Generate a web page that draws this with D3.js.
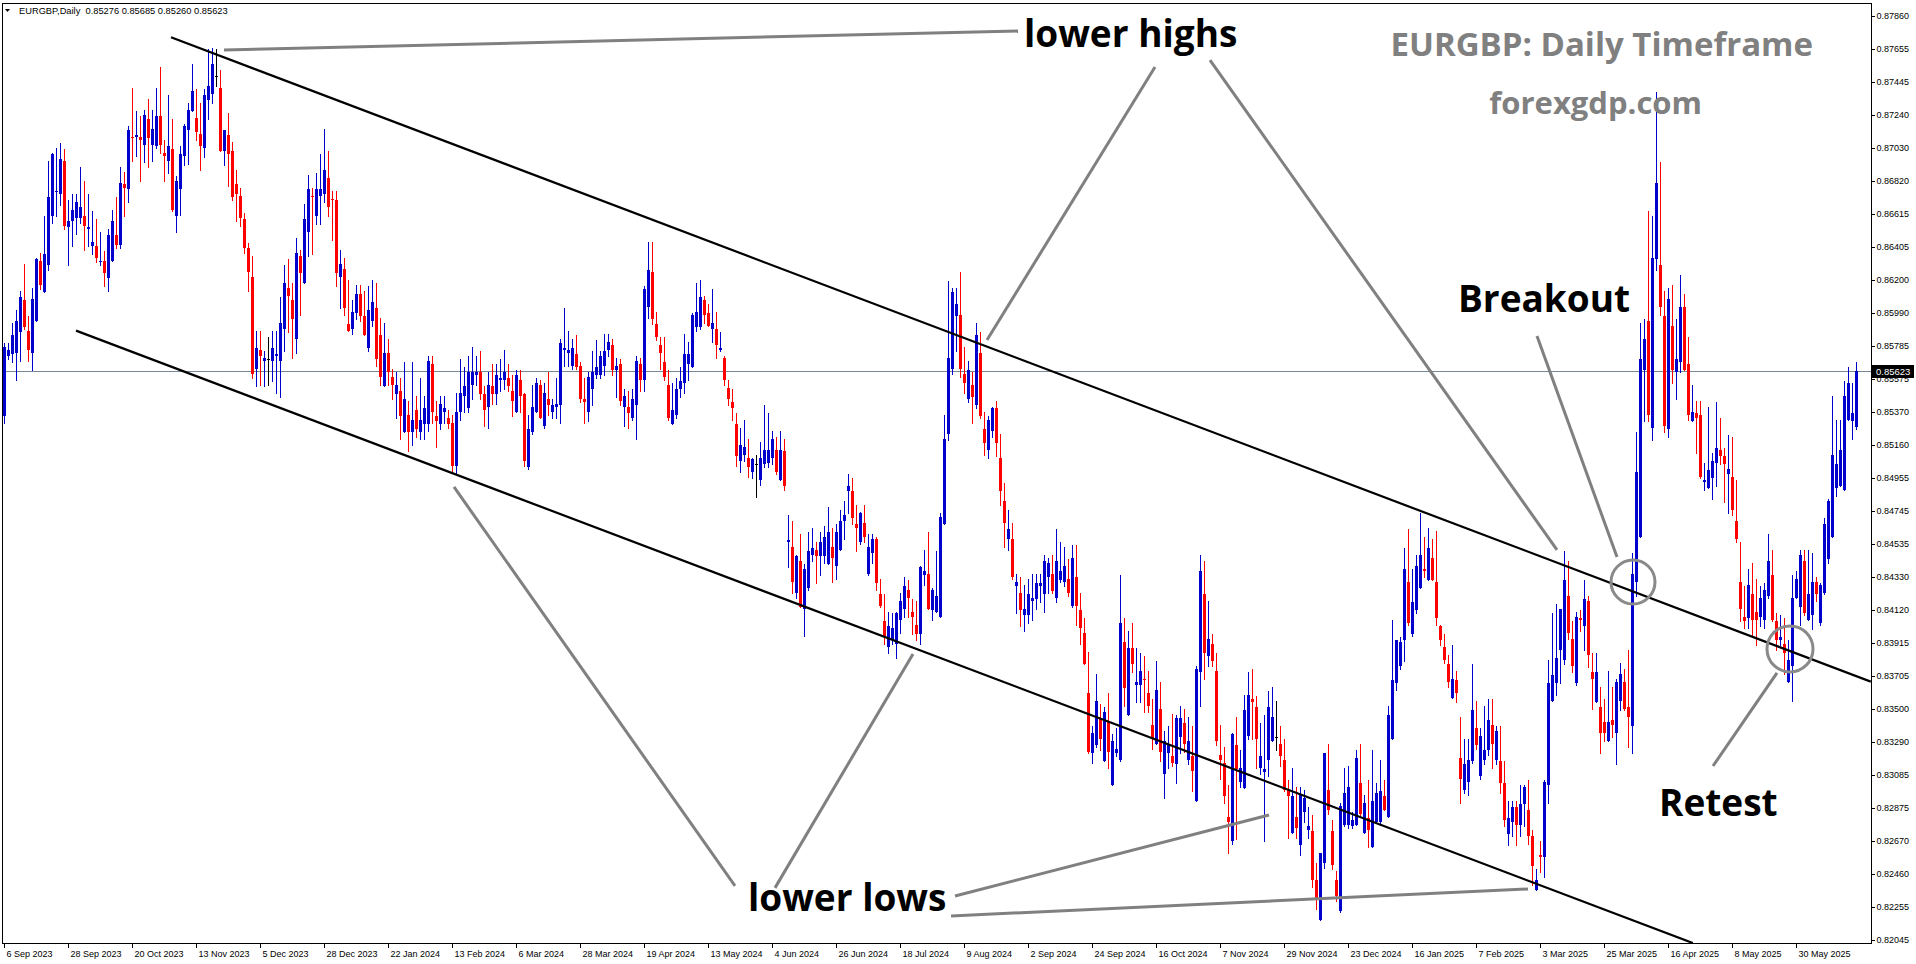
<!DOCTYPE html>
<html><head><meta charset="utf-8">
<script src="https://cdn.jsdelivr.net/npm/d3@7"></script>
<style>
html,body{margin:0;padding:0;background:#fff;}
svg{display:block;}
.ax text{font-family:"Liberation Sans",Arial,sans-serif;font-size:9px;fill:#000;}
.ax path,.ax line{stroke:#000;shape-rendering:crispEdges;}
</style></head><body>
<svg id="c" width="1916" height="964"></svg>
<script>
// ---------- DATA (EURGBP Daily) ----------
const opens=[0.8534,0.8572,0.8573,0.8574,0.8587,0.8607,0.8588,0.8574,0.8594,0.8632,0.8612,0.8629,0.8660,0.8675,0.8674,0.8695,0.8653,0.8657,0.8659,0.8659,0.8660,0.8652,0.8641,0.8641,0.8631,0.8632,0.8621,0.8632,0.8648,0.8642,0.8680,0.8677,0.8710,0.8710,0.8710,0.8705,0.8721,0.8705,0.8704,0.8723,0.8700,0.8695,0.8702,0.8660,0.8677,0.8698,0.8714,0.8726,0.8722,0.8712,0.8703,0.8733,0.8737,0.8748,0.8741,0.8701,0.8711,0.8701,0.8680,0.8673,0.8658,0.8640,0.8622,0.8564,0.8576,0.8569,0.8570,0.8569,0.8572,0.8569,0.8589,0.8615,0.8607,0.8583,0.8635,0.8618,0.8650,0.8673,0.8660,0.8673,0.8674,0.8684,0.8671,0.8670,0.8622,0.8627,0.8592,0.8589,0.8599,0.8611,0.8597,0.8577,0.8594,0.8602,0.8585,0.8553,0.8574,0.8559,0.8548,0.8550,0.8524,0.8535,0.8524,0.8538,0.8524,0.8529,0.8529,0.8567,0.8534,0.8529,0.8537,0.8533,0.8530,0.8503,0.8537,0.8547,0.8539,0.8554,0.8560,0.8562,0.8548,0.8540,0.8553,0.8548,0.8557,0.8557,0.8558,0.8550,0.8537,0.8557,0.8548,0.8502,0.8524,0.8537,0.8554,0.8528,0.8545,0.8537,0.8540,0.8541,0.8576,0.8574,0.8566,0.8573,0.8566,0.8545,0.8537,0.8551,0.8560,0.8560,0.8566,0.8576,0.8579,0.8563,0.8567,0.8540,0.8540,0.8533,0.8541,0.8567,0.8557,0.8603,0.8625,0.8592,0.8579,0.8568,0.8554,0.8529,0.8535,0.8551,0.8555,0.8567,0.8565,0.8590,0.8590,0.8607,0.8599,0.8589,0.8589,0.8576,0.8571,0.8552,0.8543,0.8529,0.8506,0.8510,0.8508,0.8499,0.8504,0.8494,0.8504,0.8505,0.8508,0.8513,0.8494,0.8512,0.8455,0.8452,0.8423,0.8443,0.8413,0.8426,0.8447,0.8450,0.8446,0.8446,0.8441,0.8452,0.8440,0.8450,0.8468,0.8487,0.8487,0.8466,0.8455,0.8467,0.8435,0.8448,0.8457,0.8422,0.8405,0.8389,0.8393,0.8391,0.8406,0.8413,0.8425,0.8411,0.8403,0.8397,0.8434,0.8435,0.8412,0.8411,0.8408,0.8466,0.8523,0.8564,0.8597,0.8598,0.8561,0.8545,0.8554,0.8541,0.8574,0.8526,0.8513,0.8525,0.8539,0.8508,0.8481,0.8457,0.8457,0.8427,0.8423,0.8409,0.8409,0.8418,0.8419,0.8427,0.8422,0.8433,0.8435,0.8420,0.8431,0.8430,0.8432,0.8415,0.8433,0.8412,0.8398,0.8360,0.8322,0.8327,0.8344,0.8317,0.8342,0.8302,0.8322,0.8318,0.8392,0.8346,0.8388,0.8365,0.8365,0.8369,0.8360,0.8340,0.8328,0.8350,0.8309,0.8322,0.8320,0.8315,0.8332,0.8341,0.8318,0.8320,0.8292,0.8373,0.8422,0.8383,0.8391,0.8374,0.8321,0.8316,0.8282,0.8267,0.8327,0.8304,0.8300,0.8333,0.8356,0.8351,0.8313,0.8310,0.8318,0.8330,0.8332,0.8328,0.8318,0.8299,0.8272,0.8282,0.8264,0.8285,0.8274,0.8273,0.8242,0.8217,0.8253,0.8299,0.8273,0.8242,0.8223,0.8277,0.8277,0.8276,0.8277,0.8303,0.8272,0.8281,0.8263,0.8279,0.8279,0.8295,0.8282,0.8331,0.8366,0.8377,0.8393,0.8430,0.8397,0.8412,0.8426,0.8438,0.8431,0.8445,0.8430,0.8402,0.8389,0.8378,0.8357,0.8368,0.8319,0.8299,0.8304,0.8317,0.8338,0.8308,0.8318,0.8324,0.8340,0.8318,0.8317,0.8303,0.8271,0.8279,0.8288,0.8277,0.8290,0.8286,0.8270,0.8236,0.8258,0.8257,0.8302,0.8355,0.8366,0.8387,0.8381,0.8421,0.8394,0.8366,0.8407,0.8402,0.8418,0.8373,0.8354,0.8351,0.8342,0.8330,0.8343,0.8335,0.8355,0.8367,0.8351,0.8339,0.8430,0.8458,0.8563,0.8594,0.8527,0.8633,0.8629,0.8597,0.8526,0.8591,0.8562,0.8568,0.8603,0.8567,0.8531,0.8536,0.8535,0.8493,0.8489,0.8495,0.8505,0.8513,0.8509,0.8498,0.8496,0.8468,0.8430,0.8408,0.8407,0.8422,0.8411,0.8408,0.8406,0.8421,0.8434,0.8405,0.8393,0.8391,0.8367,0.8377,0.8420,0.8414,0.8443,0.8406,0.8409,0.8430,0.8404,0.8423,0.8444,0.8458,0.8489,0.8490,0.8488,0.8532,0.8531,0.85276];
const highs=[0.8580,0.8580,0.8593,0.8601,0.8613,0.8630,0.8597,0.8615,0.8634,0.8637,0.8660,0.8695,0.8700,0.8703,0.8706,0.8702,0.8670,0.8674,0.8674,0.8691,0.8682,0.8674,0.8663,0.8658,0.8650,0.8638,0.8652,0.8664,0.8672,0.8691,0.8688,0.8717,0.8741,0.8726,0.8723,0.8727,0.8734,0.8727,0.8741,0.8754,0.8708,0.8736,0.8721,0.8685,0.8704,0.8718,0.8731,0.8756,0.8740,0.8731,0.8740,0.8765,0.8766,0.8765,0.8752,0.8714,0.8725,0.8707,0.8689,0.8678,0.8662,0.8643,0.8635,0.8588,0.8588,0.8575,0.8584,0.8588,0.8588,0.8609,0.8629,0.8633,0.8618,0.8646,0.8639,0.8668,0.8686,0.8678,0.8687,0.8699,0.8715,0.8701,0.8676,0.8676,0.8639,0.8634,0.8620,0.8607,0.8617,0.8617,0.8613,0.8616,0.8620,0.8618,0.8596,0.8593,0.8583,0.8564,0.8562,0.8558,0.8568,0.8544,0.8568,0.8547,0.8558,0.8547,0.8572,0.8572,0.8544,0.8547,0.8547,0.8538,0.8535,0.8549,0.8570,0.8565,0.8572,0.8578,0.8572,0.8575,0.8553,0.8562,0.8567,0.8567,0.8570,0.8576,0.8567,0.8560,0.8563,0.8563,0.8549,0.8535,0.8554,0.8558,0.8557,0.8555,0.8562,0.8545,0.8558,0.8583,0.8602,0.8588,0.8583,0.8585,0.8568,0.8558,0.8562,0.8575,0.8582,0.8575,0.8586,0.8586,0.8583,0.8571,0.8570,0.8551,0.8550,0.8551,0.8572,0.8571,0.8616,0.8644,0.8644,0.8600,0.8584,0.8584,0.8563,0.8555,0.8558,0.8565,0.8586,0.8581,0.8599,0.8618,0.8620,0.8610,0.8605,0.8614,0.8600,0.8587,0.8572,0.8557,0.8551,0.8536,0.8527,0.8532,0.8520,0.8508,0.8510,0.8518,0.8541,0.8536,0.8525,0.8521,0.8525,0.8520,0.8472,0.8468,0.8447,0.8460,0.8441,0.8461,0.8464,0.8455,0.8461,0.8465,0.8477,0.8464,0.8466,0.8475,0.8481,0.8498,0.8495,0.8478,0.8474,0.8478,0.8460,0.8460,0.8458,0.8432,0.8422,0.8411,0.8410,0.8411,0.8423,0.8433,0.8431,0.8419,0.8418,0.8440,0.8450,0.8461,0.8426,0.8449,0.8473,0.8535,0.8619,0.8615,0.8615,0.8625,0.8578,0.8569,0.8562,0.8593,0.8587,0.8537,0.8534,0.8540,0.8544,0.8523,0.8492,0.8475,0.8467,0.8435,0.8433,0.8428,0.8432,0.8435,0.8435,0.8435,0.8447,0.8445,0.8447,0.8463,0.8455,0.8452,0.8444,0.8453,0.8453,0.8423,0.8407,0.8386,0.8339,0.8372,0.8353,0.8351,0.8360,0.8334,0.8338,0.8434,0.8407,0.8399,0.8404,0.8388,0.8385,0.8383,0.8374,0.8356,0.8380,0.8367,0.8336,0.8339,0.8347,0.8346,0.8352,0.8350,0.8345,0.8339,0.8377,0.8447,0.8443,0.8418,0.8397,0.8385,0.8340,0.8326,0.8302,0.8335,0.8345,0.8324,0.8359,0.8373,0.8375,0.8358,0.8341,0.8346,0.8361,0.8364,0.8355,0.8339,0.8331,0.8305,0.8313,0.8301,0.8301,0.8299,0.8288,0.8283,0.8253,0.8259,0.8322,0.8328,0.8280,0.8248,0.8291,0.8313,0.8314,0.8285,0.8324,0.8328,0.8296,0.8305,0.8324,0.8303,0.8318,0.8305,0.8352,0.8406,0.8393,0.8395,0.8451,0.8463,0.8438,0.8447,0.8473,0.8458,0.8464,0.8457,0.8462,0.8403,0.8397,0.8384,0.8390,0.8374,0.8345,0.8331,0.8331,0.8378,0.8355,0.8338,0.8352,0.8356,0.8356,0.8339,0.8339,0.8317,0.8292,0.8292,0.8292,0.8302,0.8302,0.8305,0.8274,0.8249,0.8267,0.8305,0.8381,0.8410,0.8416,0.8413,0.8449,0.8443,0.8405,0.8411,0.8412,0.8431,0.8421,0.8385,0.8385,0.8364,0.8356,0.8374,0.8364,0.8369,0.8379,0.8375,0.8387,0.8448,0.8524,0.8593,0.8595,0.8663,0.8660,0.8738,0.8694,0.8613,0.8615,0.8617,0.8595,0.8623,0.8611,0.8584,0.8554,0.8544,0.8544,0.8505,0.8540,0.8511,0.8543,0.8533,0.8514,0.8522,0.8521,0.8494,0.8455,0.8427,0.8438,0.8442,0.8432,0.8427,0.8429,0.8460,0.8450,0.8410,0.8409,0.8407,0.8393,0.8434,0.8437,0.8450,0.8450,0.8450,0.8448,0.8433,0.8429,0.8470,0.8482,0.8547,0.8532,0.8532,0.8556,0.8565,0.8555,0.85685];
const lows=[0.8530,0.8570,0.8568,0.8557,0.8569,0.8589,0.8569,0.8563,0.8594,0.8614,0.8612,0.8626,0.8656,0.8660,0.8667,0.8652,0.8629,0.8641,0.8649,0.8656,0.8639,0.8641,0.8636,0.8631,0.8629,0.8616,0.8613,0.8632,0.8640,0.8640,0.8660,0.8669,0.8695,0.8698,0.8682,0.8694,0.8691,0.8695,0.8703,0.8700,0.8682,0.8687,0.8663,0.8650,0.8661,0.8692,0.8693,0.8726,0.8708,0.8689,0.8697,0.8721,0.8731,0.8742,0.8701,0.8692,0.8679,0.8670,0.8657,0.8654,0.8637,0.8613,0.8558,0.8553,0.8554,0.8553,0.8554,0.8556,0.8549,0.8546,0.8575,0.8587,0.8571,0.8574,0.8598,0.8618,0.8635,0.8636,0.8655,0.8655,0.8669,0.8660,0.8645,0.8616,0.8602,0.8598,0.8588,0.8586,0.8595,0.8594,0.8585,0.8575,0.8591,0.8566,0.8554,0.8553,0.8554,0.8545,0.8533,0.8520,0.8524,0.8512,0.8516,0.8521,0.8520,0.8520,0.8525,0.8530,0.8515,0.8526,0.8530,0.8527,0.8499,0.8498,0.8532,0.8537,0.8537,0.8545,0.8554,0.8545,0.8528,0.8527,0.8542,0.8542,0.8550,0.8551,0.8550,0.8534,0.8537,0.8537,0.8503,0.8501,0.8523,0.8537,0.8533,0.8527,0.8535,0.8533,0.8533,0.8530,0.8566,0.8566,0.8564,0.8564,0.8543,0.8530,0.8531,0.8541,0.8558,0.8558,0.8560,0.8572,0.8560,0.8546,0.8541,0.8528,0.8527,0.8532,0.8520,0.8550,0.8550,0.8596,0.8592,0.8582,0.8564,0.8557,0.8532,0.8529,0.8533,0.8546,0.8549,0.8557,0.8565,0.8588,0.8589,0.8593,0.8591,0.8581,0.8571,0.8575,0.8554,0.8541,0.8532,0.8503,0.8499,0.8506,0.8496,0.8495,0.8483,0.8491,0.8502,0.8502,0.8504,0.8498,0.8494,0.8488,0.8439,0.8423,0.8420,0.8414,0.8396,0.8425,0.8443,0.8429,0.8434,0.8442,0.8441,0.8430,0.8432,0.8450,0.8457,0.8473,0.8466,0.8449,0.8454,0.8455,0.8434,0.8442,0.8425,0.8414,0.8391,0.8385,0.8391,0.8382,0.8398,0.8408,0.8408,0.8397,0.8393,0.8391,0.8428,0.8413,0.8406,0.8411,0.8408,0.8466,0.8519,0.8561,0.8575,0.8559,0.8549,0.8543,0.8530,0.8539,0.8533,0.8510,0.8508,0.8521,0.8509,0.8478,0.8452,0.8450,0.8432,0.8410,0.8402,0.8399,0.8404,0.8406,0.8413,0.8417,0.8411,0.8423,0.8423,0.8417,0.8430,0.8427,0.8421,0.8414,0.8403,0.8391,0.8378,0.8322,0.8316,0.8326,0.8324,0.8317,0.8313,0.8302,0.8320,0.8317,0.8352,0.8346,0.8373,0.8354,0.8354,0.8348,0.8348,0.8325,0.8328,0.8317,0.8294,0.8313,0.8314,0.8303,0.8322,0.8323,0.8315,0.8298,0.8292,0.8352,0.8369,0.8377,0.8377,0.8327,0.8306,0.8291,0.8259,0.8265,0.8268,0.8301,0.8300,0.8331,0.8331,0.8313,0.8309,0.8267,0.8308,0.8330,0.8324,0.8314,0.8298,0.8269,0.8272,0.8269,0.8258,0.8279,0.8269,0.8238,0.8224,0.8217,0.8250,0.8284,0.8249,0.8229,0.8222,0.8276,0.8275,0.8275,0.8277,0.8283,0.8272,0.8263,0.8263,0.8278,0.8277,0.8286,0.8282,0.8331,0.8362,0.8375,0.8380,0.8403,0.8396,0.8410,0.8426,0.8433,0.8431,0.8431,0.8403,0.8390,0.8379,0.8364,0.8357,0.8354,0.8291,0.8297,0.8296,0.8316,0.8325,0.8306,0.8315,0.8321,0.8313,0.8315,0.8297,0.8276,0.8264,0.8270,0.8264,0.8270,0.8276,0.8265,0.8239,0.8236,0.8247,0.8244,0.8291,0.8355,0.8359,0.8366,0.8378,0.8394,0.8373,0.8365,0.8399,0.8387,0.8376,0.8350,0.8354,0.8322,0.8330,0.8330,0.8332,0.8315,0.8349,0.8349,0.8326,0.8322,0.8421,0.8458,0.8531,0.8531,0.8519,0.8626,0.8598,0.8524,0.8521,0.8555,0.8545,0.8562,0.8563,0.8532,0.8531,0.8511,0.8495,0.8488,0.8489,0.8482,0.8490,0.8504,0.8480,0.8473,0.8472,0.8455,0.8405,0.8401,0.8401,0.8395,0.8390,0.8402,0.8401,0.8420,0.8405,0.8387,0.8390,0.8372,0.8367,0.8355,0.8420,0.8403,0.8409,0.8406,0.8400,0.8418,0.8403,0.8422,0.8442,0.8458,0.8484,0.8490,0.8488,0.8532,0.8520,0.85260];
const closes=[0.8578,0.8576,0.8585,0.8594,0.8609,0.8590,0.8576,0.8608,0.8633,0.8617,0.8636,0.8672,0.8699,0.8676,0.8696,0.8654,0.8657,0.8664,0.8669,0.8666,0.8654,0.8653,0.8644,0.8634,0.8632,0.8624,0.8648,0.8657,0.8642,0.8681,0.8678,0.8714,0.8709,0.8711,0.8708,0.8724,0.8709,0.8715,0.8723,0.8705,0.8698,0.8704,0.8664,0.8682,0.8699,0.8717,0.8727,0.8739,0.8713,0.8704,0.8736,0.8742,0.8756,0.8748,0.8701,0.8714,0.8699,0.8672,0.8674,0.8659,0.8640,0.8625,0.8561,0.8577,0.8572,0.8571,0.8570,0.8577,0.8573,0.8593,0.8618,0.8610,0.8595,0.8637,0.8624,0.8658,0.8677,0.8672,0.8677,0.8677,0.8689,0.8666,0.8670,0.8624,0.8630,0.8602,0.8588,0.8600,0.8611,0.8597,0.8585,0.8601,0.8606,0.8570,0.8559,0.8574,0.8562,0.8554,0.8554,0.8534,0.8545,0.8524,0.8532,0.8526,0.8532,0.8539,0.8569,0.8537,0.8531,0.8542,0.8539,0.8529,0.8503,0.8537,0.8549,0.8553,0.8562,0.8562,0.8562,0.8548,0.8538,0.8554,0.8548,0.8560,0.8558,0.8562,0.8553,0.8544,0.8560,0.8547,0.8506,0.8526,0.8540,0.8555,0.8533,0.8549,0.8541,0.8541,0.8542,0.8580,0.8577,0.8576,0.8577,0.8565,0.8545,0.8543,0.8559,0.8562,0.8565,0.8572,0.8575,0.8581,0.8563,0.8566,0.8544,0.8547,0.8536,0.8545,0.8569,0.8557,0.8614,0.8626,0.8595,0.8584,0.8574,0.8559,0.8533,0.8538,0.8551,0.8556,0.8573,0.8573,0.8598,0.8600,0.8609,0.8598,0.8591,0.8593,0.8579,0.8577,0.8557,0.8545,0.8539,0.8509,0.8516,0.8515,0.8502,0.8507,0.8504,0.8508,0.8513,0.8513,0.8520,0.8499,0.8513,0.8490,0.8456,0.8430,0.8446,0.8414,0.8438,0.8449,0.8451,0.8446,0.8455,0.8458,0.8461,0.8445,0.8461,0.8468,0.8472,0.8490,0.8470,0.8464,0.8473,0.8458,0.8452,0.8457,0.8429,0.8415,0.8396,0.8402,0.8401,0.8410,0.8418,0.8427,0.8420,0.8408,0.8397,0.8439,0.8437,0.8413,0.8425,0.8421,0.8471,0.8520,0.8571,0.8612,0.8605,0.8564,0.8555,0.8563,0.8546,0.8585,0.8534,0.8517,0.8532,0.8539,0.8517,0.8487,0.8467,0.8463,0.8433,0.8430,0.8412,0.8413,0.8422,0.8420,0.8429,0.8429,0.8443,0.8442,0.8424,0.8443,0.8437,0.8440,0.8423,0.8445,0.8415,0.8401,0.8378,0.8323,0.8335,0.8355,0.8331,0.8348,0.8323,0.8330,0.8325,0.8404,0.8363,0.8388,0.8378,0.8367,0.8374,0.8368,0.8352,0.8331,0.8362,0.8323,0.8330,0.8327,0.8316,0.8344,0.8344,0.8328,0.8330,0.8311,0.8375,0.8437,0.8385,0.8394,0.8380,0.8330,0.8318,0.8295,0.8279,0.8334,0.8312,0.8313,0.8349,0.8359,0.8354,0.8331,0.8320,0.8312,0.8351,0.8345,0.8332,0.8320,0.8299,0.8295,0.8295,0.8275,0.8296,0.8294,0.8276,0.8242,0.8231,0.8259,0.8322,0.8286,0.8252,0.8232,0.8289,0.8297,0.8301,0.8280,0.8319,0.8284,0.8291,0.8274,0.8292,0.8297,0.8298,0.8286,0.8346,0.8368,0.8393,0.8392,0.8438,0.8404,0.8417,0.8440,0.8447,0.8437,0.8451,0.8431,0.8407,0.8393,0.8381,0.8367,0.8369,0.8360,0.8306,0.8315,0.8318,0.8349,0.8327,0.8333,0.8324,0.8343,0.8328,0.8336,0.8303,0.8280,0.8281,0.8288,0.8277,0.8290,0.8301,0.8270,0.8251,0.8242,0.8257,0.8304,0.8366,0.8371,0.8382,0.8413,0.8431,0.8398,0.8377,0.8408,0.8406,0.8419,0.8384,0.8369,0.8373,0.8335,0.8335,0.8342,0.8340,0.8367,0.8372,0.8350,0.8345,0.8435,0.8499,0.8570,0.8583,0.8535,0.8634,0.8681,0.8603,0.8528,0.8608,0.8563,0.8570,0.8603,0.8563,0.8535,0.8537,0.8533,0.8496,0.8494,0.8500,0.8506,0.8514,0.8509,0.8504,0.8501,0.8475,0.8457,0.8413,0.8405,0.8428,0.8406,0.8406,0.8420,0.8425,0.8443,0.8406,0.8393,0.8395,0.8385,0.8381,0.8420,0.8432,0.8447,0.8410,0.8422,0.8430,0.8422,0.8428,0.8466,0.8481,0.8510,0.8504,0.8513,0.8547,0.8555,0.8536,0.85623];
const dateLabels=["6 Sep 2023","28 Sep 2023","20 Oct 2023","13 Nov 2023","5 Dec 2023","28 Dec 2023","22 Jan 2024","13 Feb 2024","6 Mar 2024","28 Mar 2024","19 Apr 2024","13 May 2024","4 Jun 2024","26 Jun 2024","18 Jul 2024","9 Aug 2024","2 Sep 2024","24 Sep 2024","16 Oct 2024","7 Nov 2024","29 Nov 2024","23 Dec 2024","16 Jan 2025","7 Feb 2025","3 Mar 2025","25 Mar 2025","16 Apr 2025","8 May 2025","30 May 2025"];
const dateLabelBars=[0,16,32,48,64,80,96,112,128,144,160,176,192,208,224,240,256,272,288,304,320,336,352,368,384,400,416,432,448];
const priceTicks=[0.87860,0.87655,0.87445,0.87240,0.87030,0.86820,0.86615,0.86405,0.86200,0.85990,0.85785,0.85575,0.85370,0.85160,0.84955,0.84745,0.84535,0.84330,0.84120,0.83915,0.83705,0.83500,0.83290,0.83085,0.82875,0.82670,0.82460,0.82255,0.82045];
const lastPrice=0.85623;
// channel lines: [barA, priceA, barB, priceB]
const channelLines=[[41.85,0.87726,466.8,0.83671],[18.1,0.85880,422.3,0.82026]];
// grey annotation lines
const noteLines=[[55.1,0.87646,253.6,0.87766],[287.85,0.87539,245.85,0.85821],[301.6,0.87583,388.35,0.84500],[383.35,0.85846,403.35,0.84455],[443.35,0.83726,427.35,0.83140],[112.6,0.84896,182.85,0.82385],[227.35,0.83845,192.85,0.82373],[237.85,0.82322,316.35,0.82832],[236.85,0.82196,381.1,0.82366]];
// circles: bar, price, radius(px)
const noteCircles=[[407.35,0.84298,22],[446.6,0.83877,23]];
const noteTexts=[["lower highs",255.1,0.87665],["lower lows",186.1,0.82228],["Breakout",363.6,0.86000],["Retest",413.85,0.82828]];

// ---------- CHART ----------
const svg=d3.select("#c");
const P={l:2,t:3,r:1871,b:943};
const x=d3.scaleLinear().domain([0,463]).range([3.6,1855.6]);
const y=d3.scaleLinear().domain([0.82045,0.87860]).range([940,16]);
const bars=d3.range(closes.length).map(i=>({i,o:opens[i],h:highs[i],l:lows[i],c:closes[i]}));

svg.append("defs").append("clipPath").attr("id","pc").append("rect")
  .attr("x",P.l).attr("y",P.t).attr("width",P.r-P.l).attr("height",P.b-P.t);
const g=svg.append("g").attr("clip-path","url(#pc)");

// current price line
g.append("line").attr("x1",P.l).attr("x2",P.r).attr("y1",Math.round(y(lastPrice))+0.5).attr("y2",Math.round(y(lastPrice))+0.5)
  .attr("stroke","#778899").attr("stroke-width",1);

const col=d=>d.c>d.o?"#0000cd":(d.c<d.o?"#ff0000":"#000000");
const cg=g.append("g").attr("shape-rendering","crispEdges");
cg.selectAll("rect.w").data(bars).join("rect").attr("class","w")
  .attr("x",d=>Math.round(x(d.i)))
  .attr("width",1)
  .attr("y",d=>Math.round(y(d.h)))
  .attr("height",d=>Math.max(1,Math.round(y(d.l))-Math.round(y(d.h))+1))
  .attr("fill",col);
cg.selectAll("rect.b").data(bars).join("rect").attr("class","b")
  .attr("x",d=>Math.round(x(d.i))-1)
  .attr("width",3)
  .attr("y",d=>Math.round(y(Math.max(d.o,d.c))))
  .attr("height",d=>Math.max(1,Math.round(y(Math.min(d.o,d.c)))-Math.round(y(Math.max(d.o,d.c)))))
  .attr("fill",col);

// channel lines
g.selectAll("line.ch").data(channelLines).join("line").attr("class","ch")
  .attr("x1",d=>x(d[0])).attr("y1",d=>y(d[1])).attr("x2",d=>x(d[2])).attr("y2",d=>y(d[3]))
  .attr("stroke","#000").attr("stroke-width",2.2);

// grey annotation lines & circles
g.selectAll("line.nt").data(noteLines).join("line").attr("class","nt")
  .attr("x1",d=>x(d[0])).attr("y1",d=>y(d[1])).attr("x2",d=>x(d[2])).attr("y2",d=>y(d[3]))
  .attr("stroke","#808080").attr("stroke-width",3);
g.selectAll("circle.nc").data(noteCircles).join("circle").attr("class","nc")
  .attr("cx",d=>x(d[0])).attr("cy",d=>y(d[1])).attr("r",d=>d[2])
  .attr("fill","none").attr("stroke","#8a8a8a").attr("stroke-width",3);

// annotation texts
g.selectAll("text.tt").data(noteTexts).join("text").attr("class","tt")
  .attr("x",d=>x(d[1])).attr("y",d=>y(d[2])).text(d=>d[0])
  .attr("font-family","'Open Sans',sans-serif").attr("font-weight",700).attr("font-size",37).attr("fill","#000");

// watermark titles
g.append("text").attr("x",1813).attr("y",56).attr("text-anchor","end").text("EURGBP: Daily Timeframe")
  .attr("font-family","'Open Sans',sans-serif").attr("font-weight",700).attr("font-size",33).attr("fill","#808080");
g.append("text").attr("x",1702).attr("y",114).attr("text-anchor","end").text("forexgdp.com")
  .attr("font-family","'Open Sans',sans-serif").attr("font-weight",700).attr("font-size",31).attr("fill","#808080");

// frame
svg.append("rect").attr("x",P.l+0.5).attr("y",P.t+0.5).attr("width",P.r-P.l).attr("height",P.b-P.t)
  .attr("fill","none").attr("stroke","#000").attr("shape-rendering","crispEdges");

// axes
const ya=svg.append("g").attr("class","ax").attr("transform",`translate(${P.r+0.5},0)`)
  .call(d3.axisRight(y).tickValues(priceTicks).tickFormat(d3.format(".5f")).tickSize(3).tickSizeOuter(0).tickPadding(2));
ya.select(".domain").remove();
const xa=svg.append("g").attr("class","ax").attr("transform",`translate(0,${P.b+0.5})`)
  .call(d3.axisBottom(x).tickValues(dateLabelBars).tickFormat((d,k)=>dateLabels[k]).tickSize(4).tickSizeOuter(0).tickPadding(3));
xa.select(".domain").remove();
xa.selectAll("text").attr("text-anchor","start").attr("dx",2);
xa.selectAll(".tick").attr("transform",d=>`translate(${Math.round(x(d))+0.5},0)`);
ya.selectAll(".tick").attr("transform",d=>`translate(0,${Math.round(y(d))+0.5})`);

// last price label
const ly=Math.round(y(lastPrice));
svg.append("rect").attr("x",P.r+1).attr("y",ly-6).attr("width",42).attr("height",13).attr("fill","#000");
svg.append("text").attr("x",P.r+5).attr("y",ly+4).text(d3.format(".5f")(lastPrice))
  .attr("font-family","'Liberation Sans',Arial,sans-serif").attr("font-size",9.5).attr("fill","#fff");

// header
svg.append("path").attr("d","M5,9 L10,9 L7.5,12 Z").attr("fill","#000");
svg.append("text").attr("x",19).attr("y",14).attr("xml:space","preserve").style("white-space","pre")
  .text(`EURGBP,Daily  ${d3.format(".5f")(opens[463])} ${d3.format(".5f")(highs[463])} ${d3.format(".5f")(lows[463])} ${d3.format(".5f")(closes[463])}`)
  .attr("font-family","'Liberation Sans',Arial,sans-serif").attr("font-size",9.3).attr("fill","#000");
</script></body></html>
